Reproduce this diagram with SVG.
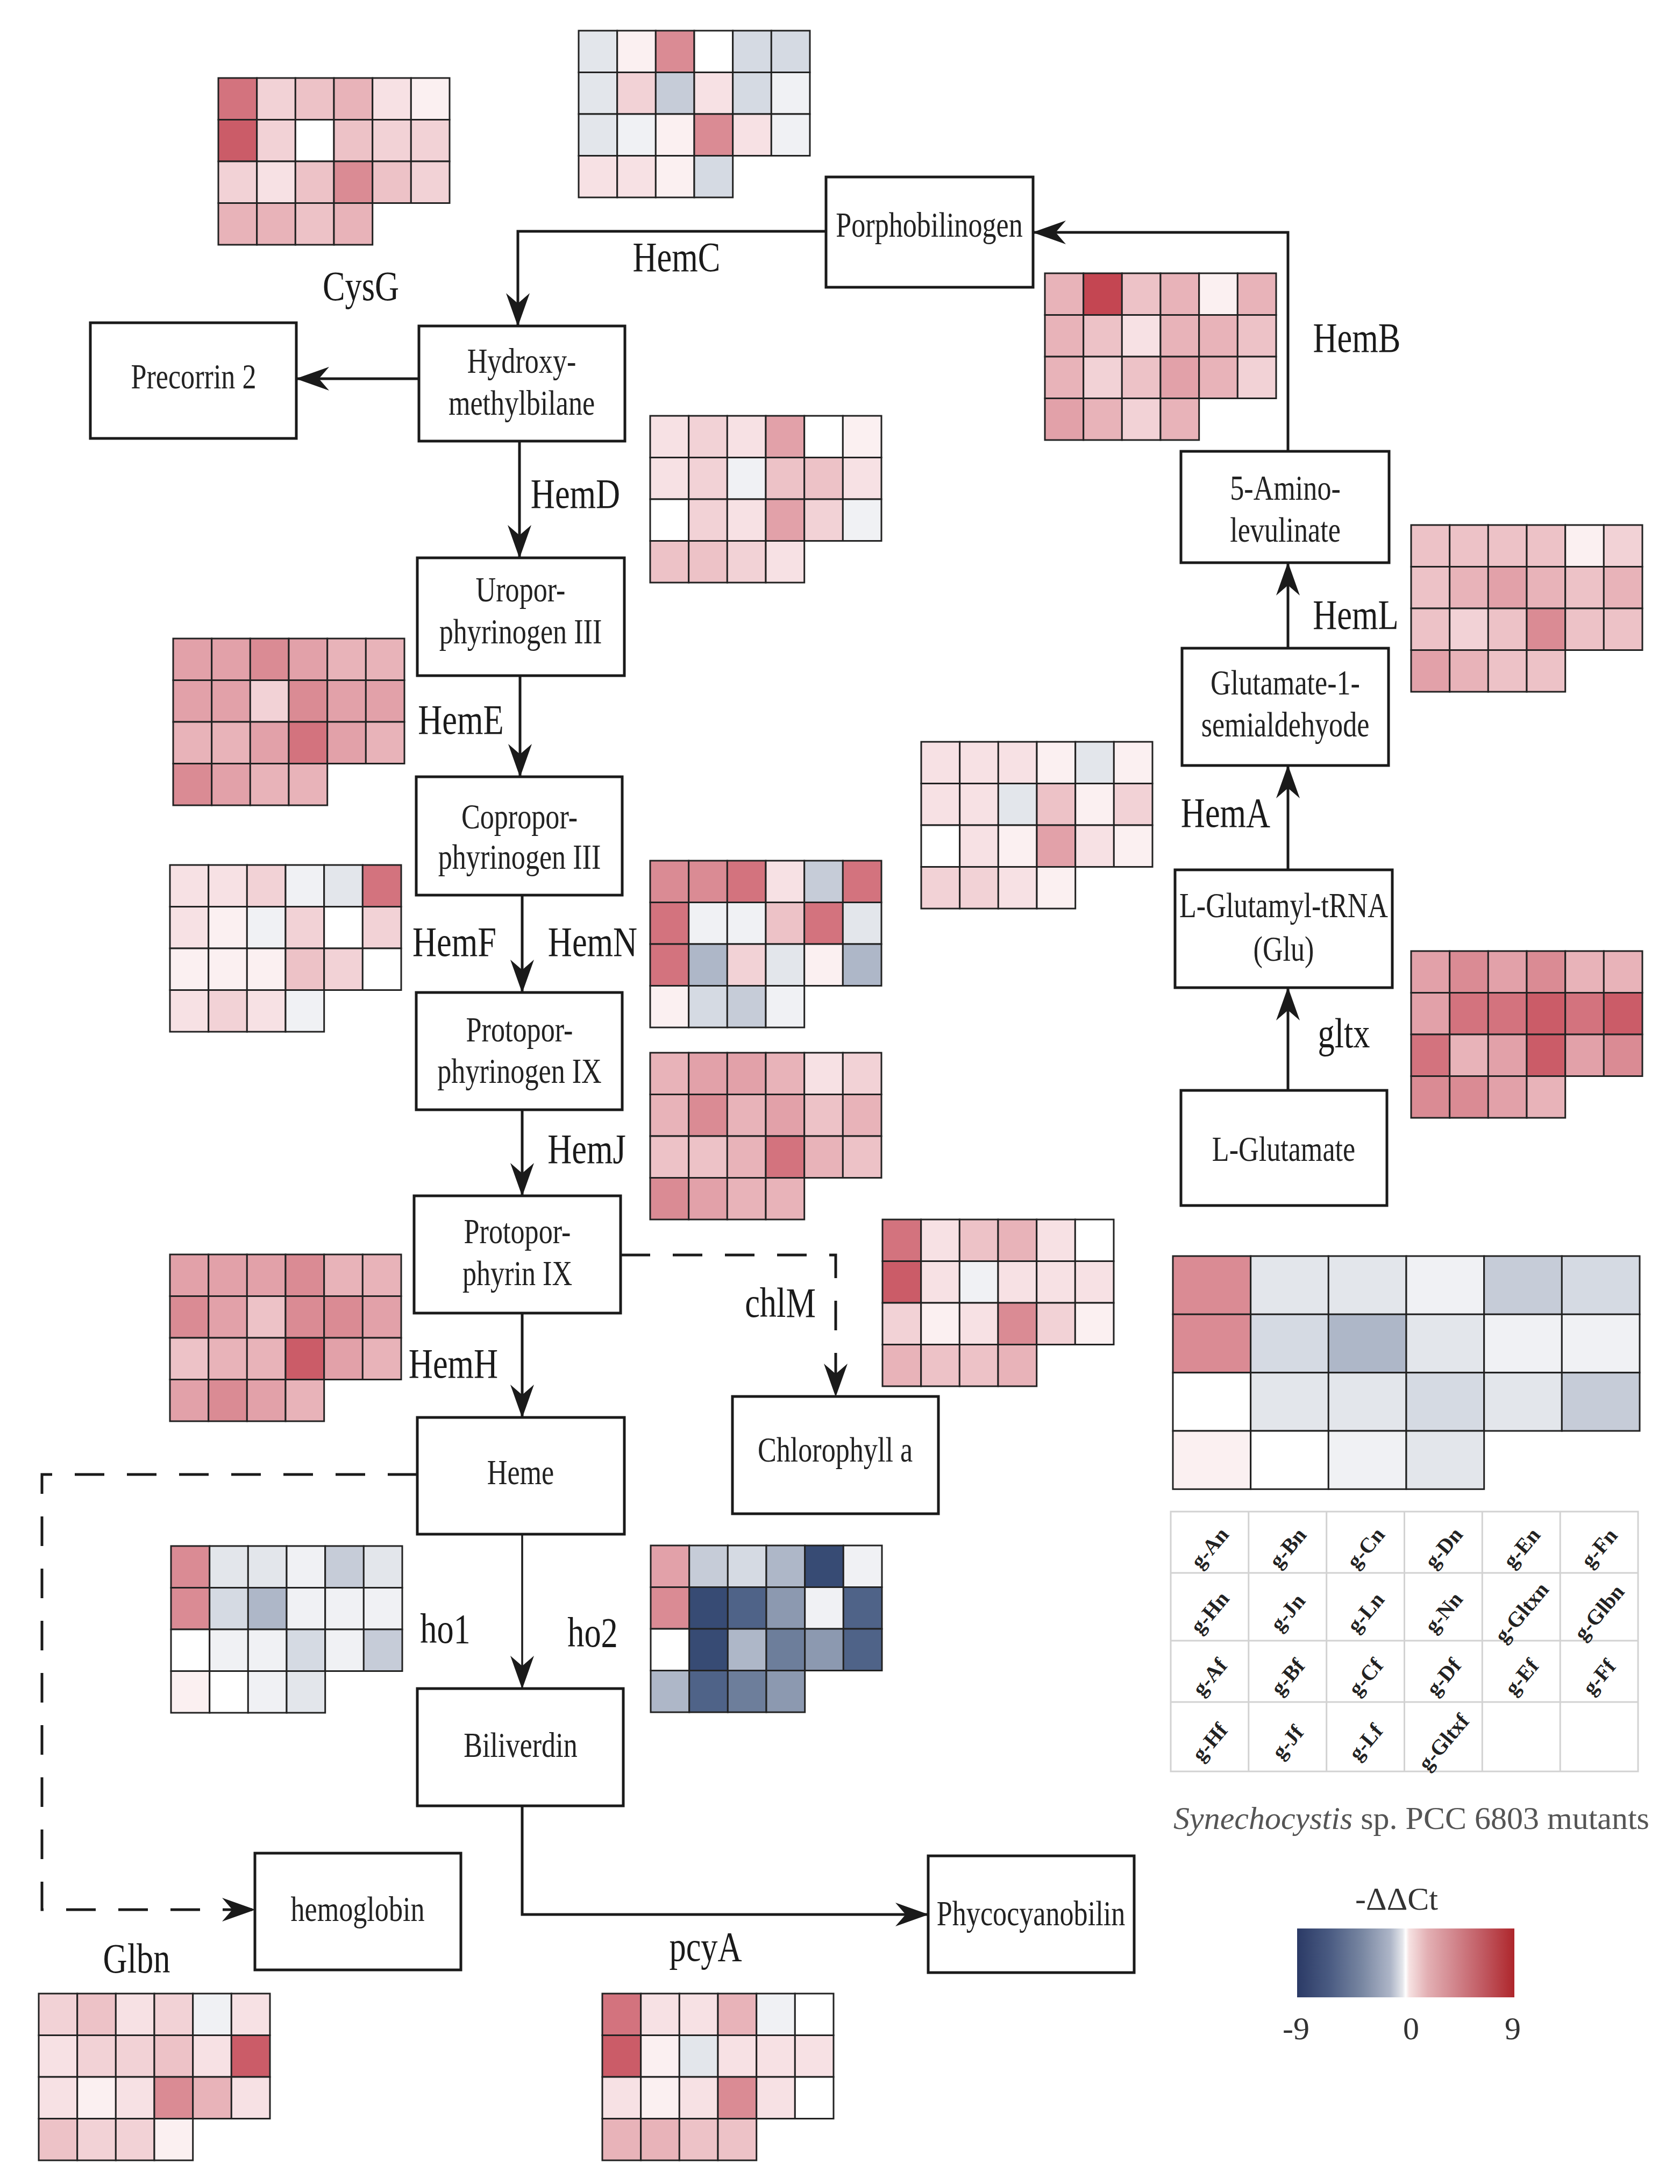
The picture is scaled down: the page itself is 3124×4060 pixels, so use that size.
<svg xmlns="http://www.w3.org/2000/svg" width="3124" height="4060" viewBox="0 0 3124 4060">
<defs>
<marker id="ah" markerUnits="userSpaceOnUse" markerWidth="64" markerHeight="48" refX="61" refY="24" orient="auto" viewBox="0 0 64 48"><path d="M0,2 L62,24 L0,46 L19,24 Z" fill="#1a1a1a"/></marker>
<linearGradient id="cbar" x1="0" y1="0" x2="1" y2="0">
<stop offset="0" stop-color="#2b3a66"/><stop offset="0.15" stop-color="#4a5b82"/><stop offset="0.3" stop-color="#7987a2"/><stop offset="0.43" stop-color="#aeb6c8"/><stop offset="0.485" stop-color="#e4e6eb"/><stop offset="0.5" stop-color="#ffffff"/><stop offset="0.515" stop-color="#f6e2e2"/><stop offset="0.6" stop-color="#e3b0b4"/><stop offset="0.72" stop-color="#d2878e"/><stop offset="0.86" stop-color="#c05860"/><stop offset="1" stop-color="#ae262b"/>
</linearGradient>
<style>
.node rect{fill:#fff;stroke:#1a1a1a;stroke-width:5}
.nt{font-family:"Liberation Serif","Times New Roman",serif;font-size:66px;fill:#222;text-anchor:middle}
.et{font-family:"Liberation Serif","Times New Roman",serif;font-size:78px;fill:#1a1a1a;text-anchor:middle}
.conn path{fill:none;stroke:#1a1a1a;stroke-width:5}
.conn .thin{stroke-width:3.5}
.conn .dash{stroke-dasharray:55 42;stroke-width:5}
.hm rect{stroke:#222;stroke-width:3}
.grid line,.grid rect{stroke:#d2d2d2;stroke-width:3;fill:none}
.gl{font-family:"Liberation Serif","Times New Roman",serif;font-size:40px;font-weight:bold;fill:#222;text-anchor:middle}
.cap{font-family:"Liberation Serif","Times New Roman",serif;font-size:60px;fill:#555}
.lt{font-family:"Liberation Serif","Times New Roman",serif;font-size:60px;fill:#333;text-anchor:middle}
.w{fill:#ffffff}.r1{fill:#fbf0f1}.r2{fill:#f7e1e4}.r3{fill:#f2d2d6}.r4{fill:#edc2c7}.r5{fill:#e8b3b9}.r6{fill:#e2a1a9}.r7{fill:#da8b94}.r8{fill:#d3737e}.r9{fill:#cb5c68}.r10{fill:#c44652}
.g1{fill:#f0f1f4}.g2{fill:#e3e6eb}.g3{fill:#d5dae3}.g4{fill:#c6ccd8}.g5{fill:#aeb7c8}.g6{fill:#8c99b0}.g7{fill:#6d7e9b}.g8{fill:#4f6388}.g9{fill:#374b74}
</style>
</defs>
<rect width="3124" height="4060" fill="#ffffff"/>

<g id="connectors" class="conn">
<path d="M1536,430 H963 V606" marker-end="url(#ah)"/>
<path d="M779,704 H551" marker-end="url(#ah)"/>
<path d="M966,820 V1037" marker-end="url(#ah)"/>
<path d="M967,1256 V1444" marker-end="url(#ah)"/>
<path d="M971,1664 V1845" marker-end="url(#ah)"/>
<path d="M971,2063 V2223" marker-end="url(#ah)"/>
<path d="M971,2441 V2635" marker-end="url(#ah)"/>
<path class="thin" d="M971,2852 V3139" marker-end="url(#ah)"/>
<path d="M971,3357 V3559 H1726" marker-end="url(#ah)"/>
<path class="dash" d="M776,2741 H78 V3550 H474" marker-end="url(#ah)"/>
<path class="dash" d="M1154,2333 H1554 V2596" marker-end="url(#ah)"/>
<path d="M2395,839 V432 H1921" marker-end="url(#ah)"/>
<path d="M2395,1205 V1046" marker-end="url(#ah)"/>
<path d="M2395,1617 V1423" marker-end="url(#ah)"/>
<path d="M2395,2027 V1836" marker-end="url(#ah)"/>
</g>

<g id="n-porphobilinogen" class="node"><rect x="1536" y="329" width="385" height="205"/><text class="nt" transform="translate(1728,440) scale(0.79,1)">Porphobilinogen</text></g>
<g id="n-hydroxymethylbilane" class="node"><rect x="779" y="606" width="383" height="214"/><text class="nt" transform="translate(970,0) scale(0.79,1)"><tspan x="0" y="693">Hydroxy-</tspan><tspan x="0" y="771">methylbilane</tspan></text></g>
<g id="n-precorrin2" class="node"><rect x="168" y="600" width="383" height="215"/><text class="nt" transform="translate(360,722) scale(0.79,1)">Precorrin 2</text></g>
<g id="n-uroporphyrinogen" class="node"><rect x="776" y="1037" width="385" height="219"/><text class="nt" transform="translate(968,0) scale(0.79,1)"><tspan x="0" y="1118">Uropor-</tspan><tspan x="0" y="1196">phyrinogen III</tspan></text></g>
<g id="n-coproporphyrinogen" class="node"><rect x="774" y="1444" width="383" height="220"/><text class="nt" transform="translate(966,0) scale(0.79,1)"><tspan x="0" y="1540">Copropor-</tspan><tspan x="0" y="1615">phyrinogen III</tspan></text></g>
<g id="n-protoporphyrinogen" class="node"><rect x="774" y="1845" width="383" height="218"/><text class="nt" transform="translate(966,0) scale(0.79,1)"><tspan x="0" y="1936">Protopor-</tspan><tspan x="0" y="2013">phyrinogen IX</tspan></text></g>
<g id="n-protoporphyrin" class="node"><rect x="770" y="2223" width="384" height="218"/><text class="nt" transform="translate(962,0) scale(0.79,1)"><tspan x="0" y="2311">Protopor-</tspan><tspan x="0" y="2389">phyrin IX</tspan></text></g>
<g id="n-heme" class="node"><rect x="776" y="2635" width="385" height="217"/><text class="nt" transform="translate(968,2759) scale(0.79,1)">Heme</text></g>
<g id="n-chlorophyll" class="node"><rect x="1362" y="2596" width="383" height="218"/><text class="nt" transform="translate(1553,2717) scale(0.79,1)">Chlorophyll a</text></g>
<g id="n-biliverdin" class="node"><rect x="776" y="3139" width="383" height="218"/><text class="nt" transform="translate(968,3266) scale(0.79,1)">Biliverdin</text></g>
<g id="n-hemoglobin" class="node"><rect x="474" y="3445" width="383" height="217"/><text class="nt" transform="translate(665,3571) scale(0.79,1)">hemoglobin</text></g>
<g id="n-phycocyanobilin" class="node"><rect x="1726" y="3450" width="383" height="217"/><text class="nt" transform="translate(1917,3579) scale(0.79,1)">Phycocyanobilin</text></g>
<g id="n-aminolevulinate" class="node"><rect x="2196" y="839" width="387" height="207"/><text class="nt" transform="translate(2390,0) scale(0.79,1)"><tspan x="0" y="929">5-Amino-</tspan><tspan x="0" y="1007">levulinate</tspan></text></g>
<g id="n-glutamate1" class="node"><rect x="2198" y="1205" width="384" height="218"/><text class="nt" transform="translate(2390,0) scale(0.79,1)"><tspan x="0" y="1291">Glutamate-1-</tspan><tspan x="0" y="1369">semialdehyode</tspan></text></g>
<g id="n-glutamyltrna" class="node"><rect x="2185" y="1617" width="404" height="219"/><text class="nt" transform="translate(2387,0) scale(0.79,1)"><tspan x="0" y="1705">L-Glutamyl-tRNA</tspan><tspan x="0" y="1786">(Glu)</tspan></text></g>
<g id="n-lglutamate" class="node"><rect x="2196" y="2027" width="383" height="214"/><text class="nt" transform="translate(2387,2158) scale(0.79,1)">L-Glutamate</text></g>

<g id="enzyme-labels">
<text class="et" transform="translate(1258,504) scale(0.8,1)">HemC</text>
<text class="et" transform="translate(671,558) scale(0.8,1)">CysG</text>
<text class="et" transform="translate(2523,654) scale(0.8,1)">HemB</text>
<text class="et" transform="translate(1070,944) scale(0.8,1)">HemD</text>
<text class="et" transform="translate(2521,1169) scale(0.8,1)">HemL</text>
<text class="et" transform="translate(857,1364) scale(0.8,1)">HemE</text>
<text class="et" transform="translate(2279,1537) scale(0.8,1)">HemA</text>
<text class="et" transform="translate(845,1777) scale(0.8,1)">HemF</text>
<text class="et" transform="translate(1102,1777) scale(0.8,1)">HemN</text>
<text class="et" transform="translate(2499,1947) scale(0.8,1)">gltx</text>
<text class="et" transform="translate(1091,2162) scale(0.8,1)">HemJ</text>
<text class="et" transform="translate(1451,2448) scale(0.8,1)">chlM</text>
<text class="et" transform="translate(843,2561) scale(0.8,1)">HemH</text>
<text class="et" transform="translate(828,3054) scale(0.8,1)">ho1</text>
<text class="et" transform="translate(1102,3061) scale(0.8,1)">ho2</text>
<text class="et" transform="translate(254,3667) scale(0.8,1)">Glbn</text>
<text class="et" transform="translate(1312,3645) scale(0.8,1)">pcyA</text>
</g>

<g id="hm-cysg" class="hm" transform="translate(406,145)">
<rect x="0" y="0" width="71.7" height="77.5" class="r8"/><rect x="71.7" y="0" width="71.7" height="77.5" class="r3"/><rect x="143.3" y="0" width="71.7" height="77.5" class="r4"/><rect x="215" y="0" width="71.7" height="77.5" class="r5"/><rect x="286.7" y="0" width="71.7" height="77.5" class="r2"/><rect x="358.3" y="0" width="71.7" height="77.5" class="r1"/>
<rect x="0" y="77.5" width="71.7" height="77.5" class="r9"/><rect x="71.7" y="77.5" width="71.7" height="77.5" class="r3"/><rect x="143.3" y="77.5" width="71.7" height="77.5" class="w"/><rect x="215" y="77.5" width="71.7" height="77.5" class="r4"/><rect x="286.7" y="77.5" width="71.7" height="77.5" class="r3"/><rect x="358.3" y="77.5" width="71.7" height="77.5" class="r3"/>
<rect x="0" y="155" width="71.7" height="77.5" class="r3"/><rect x="71.7" y="155" width="71.7" height="77.5" class="r2"/><rect x="143.3" y="155" width="71.7" height="77.5" class="r4"/><rect x="215" y="155" width="71.7" height="77.5" class="r7"/><rect x="286.7" y="155" width="71.7" height="77.5" class="r4"/><rect x="358.3" y="155" width="71.7" height="77.5" class="r3"/>
<rect x="0" y="232.5" width="71.7" height="77.5" class="r5"/><rect x="71.7" y="232.5" width="71.7" height="77.5" class="r5"/><rect x="143.3" y="232.5" width="71.7" height="77.5" class="r4"/><rect x="215" y="232.5" width="71.7" height="77.5" class="r5"/>
</g>

<g id="hm-hemc" class="hm" transform="translate(1076,57)">
<rect x="0" y="0" width="71.7" height="77.5" class="g2"/><rect x="71.7" y="0" width="71.7" height="77.5" class="r1"/><rect x="143.3" y="0" width="71.7" height="77.5" class="r7"/><rect x="215" y="0" width="71.7" height="77.5" class="w"/><rect x="286.7" y="0" width="71.7" height="77.5" class="g3"/><rect x="358.3" y="0" width="71.7" height="77.5" class="g3"/>
<rect x="0" y="77.5" width="71.7" height="77.5" class="g2"/><rect x="71.7" y="77.5" width="71.7" height="77.5" class="r3"/><rect x="143.3" y="77.5" width="71.7" height="77.5" class="g4"/><rect x="215" y="77.5" width="71.7" height="77.5" class="r2"/><rect x="286.7" y="77.5" width="71.7" height="77.5" class="g3"/><rect x="358.3" y="77.5" width="71.7" height="77.5" class="g1"/>
<rect x="0" y="155" width="71.7" height="77.5" class="g2"/><rect x="71.7" y="155" width="71.7" height="77.5" class="g1"/><rect x="143.3" y="155" width="71.7" height="77.5" class="r1"/><rect x="215" y="155" width="71.7" height="77.5" class="r7"/><rect x="286.7" y="155" width="71.7" height="77.5" class="r2"/><rect x="358.3" y="155" width="71.7" height="77.5" class="g1"/>
<rect x="0" y="232.5" width="71.7" height="77.5" class="r2"/><rect x="71.7" y="232.5" width="71.7" height="77.5" class="r2"/><rect x="143.3" y="232.5" width="71.7" height="77.5" class="r1"/><rect x="215" y="232.5" width="71.7" height="77.5" class="g3"/>
</g>

<g id="hm-hemb" class="hm" transform="translate(1943,508)">
<rect x="0" y="0" width="71.7" height="77.5" class="r5"/><rect x="71.7" y="0" width="71.7" height="77.5" class="r10"/><rect x="143.3" y="0" width="71.7" height="77.5" class="r4"/><rect x="215" y="0" width="71.7" height="77.5" class="r5"/><rect x="286.7" y="0" width="71.7" height="77.5" class="r1"/><rect x="358.3" y="0" width="71.7" height="77.5" class="r5"/>
<rect x="0" y="77.5" width="71.7" height="77.5" class="r5"/><rect x="71.7" y="77.5" width="71.7" height="77.5" class="r4"/><rect x="143.3" y="77.5" width="71.7" height="77.5" class="r2"/><rect x="215" y="77.5" width="71.7" height="77.5" class="r5"/><rect x="286.7" y="77.5" width="71.7" height="77.5" class="r5"/><rect x="358.3" y="77.5" width="71.7" height="77.5" class="r4"/>
<rect x="0" y="155" width="71.7" height="77.5" class="r5"/><rect x="71.7" y="155" width="71.7" height="77.5" class="r3"/><rect x="143.3" y="155" width="71.7" height="77.5" class="r4"/><rect x="215" y="155" width="71.7" height="77.5" class="r6"/><rect x="286.7" y="155" width="71.7" height="77.5" class="r5"/><rect x="358.3" y="155" width="71.7" height="77.5" class="r3"/>
<rect x="0" y="232.5" width="71.7" height="77.5" class="r6"/><rect x="71.7" y="232.5" width="71.7" height="77.5" class="r5"/><rect x="143.3" y="232.5" width="71.7" height="77.5" class="r3"/><rect x="215" y="232.5" width="71.7" height="77.5" class="r5"/>
</g>

<g id="hm-hemd" class="hm" transform="translate(1209,773)">
<rect x="0" y="0" width="71.7" height="77.5" class="r2"/><rect x="71.7" y="0" width="71.7" height="77.5" class="r3"/><rect x="143.3" y="0" width="71.7" height="77.5" class="r2"/><rect x="215" y="0" width="71.7" height="77.5" class="r6"/><rect x="286.7" y="0" width="71.7" height="77.5" class="w"/><rect x="358.3" y="0" width="71.7" height="77.5" class="r1"/>
<rect x="0" y="77.5" width="71.7" height="77.5" class="r2"/><rect x="71.7" y="77.5" width="71.7" height="77.5" class="r3"/><rect x="143.3" y="77.5" width="71.7" height="77.5" class="g1"/><rect x="215" y="77.5" width="71.7" height="77.5" class="r4"/><rect x="286.7" y="77.5" width="71.7" height="77.5" class="r4"/><rect x="358.3" y="77.5" width="71.7" height="77.5" class="r2"/>
<rect x="0" y="155" width="71.7" height="77.5" class="w"/><rect x="71.7" y="155" width="71.7" height="77.5" class="r3"/><rect x="143.3" y="155" width="71.7" height="77.5" class="r2"/><rect x="215" y="155" width="71.7" height="77.5" class="r6"/><rect x="286.7" y="155" width="71.7" height="77.5" class="r3"/><rect x="358.3" y="155" width="71.7" height="77.5" class="g1"/>
<rect x="0" y="232.5" width="71.7" height="77.5" class="r4"/><rect x="71.7" y="232.5" width="71.7" height="77.5" class="r4"/><rect x="143.3" y="232.5" width="71.7" height="77.5" class="r3"/><rect x="215" y="232.5" width="71.7" height="77.5" class="r2"/>
</g>

<g id="hm-heml" class="hm" transform="translate(2624,976)">
<rect x="0" y="0" width="71.7" height="77.5" class="r4"/><rect x="71.7" y="0" width="71.7" height="77.5" class="r4"/><rect x="143.3" y="0" width="71.7" height="77.5" class="r4"/><rect x="215" y="0" width="71.7" height="77.5" class="r4"/><rect x="286.7" y="0" width="71.7" height="77.5" class="r1"/><rect x="358.3" y="0" width="71.7" height="77.5" class="r3"/>
<rect x="0" y="77.5" width="71.7" height="77.5" class="r4"/><rect x="71.7" y="77.5" width="71.7" height="77.5" class="r5"/><rect x="143.3" y="77.5" width="71.7" height="77.5" class="r6"/><rect x="215" y="77.5" width="71.7" height="77.5" class="r5"/><rect x="286.7" y="77.5" width="71.7" height="77.5" class="r4"/><rect x="358.3" y="77.5" width="71.7" height="77.5" class="r5"/>
<rect x="0" y="155" width="71.7" height="77.5" class="r4"/><rect x="71.7" y="155" width="71.7" height="77.5" class="r3"/><rect x="143.3" y="155" width="71.7" height="77.5" class="r4"/><rect x="215" y="155" width="71.7" height="77.5" class="r7"/><rect x="286.7" y="155" width="71.7" height="77.5" class="r4"/><rect x="358.3" y="155" width="71.7" height="77.5" class="r4"/>
<rect x="0" y="232.5" width="71.7" height="77.5" class="r6"/><rect x="71.7" y="232.5" width="71.7" height="77.5" class="r5"/><rect x="143.3" y="232.5" width="71.7" height="77.5" class="r4"/><rect x="215" y="232.5" width="71.7" height="77.5" class="r4"/>
</g>

<g id="hm-heme" class="hm" transform="translate(322,1187)">
<rect x="0" y="0" width="71.7" height="77.5" class="r6"/><rect x="71.7" y="0" width="71.7" height="77.5" class="r6"/><rect x="143.3" y="0" width="71.7" height="77.5" class="r7"/><rect x="215" y="0" width="71.7" height="77.5" class="r6"/><rect x="286.7" y="0" width="71.7" height="77.5" class="r5"/><rect x="358.3" y="0" width="71.7" height="77.5" class="r5"/>
<rect x="0" y="77.5" width="71.7" height="77.5" class="r6"/><rect x="71.7" y="77.5" width="71.7" height="77.5" class="r6"/><rect x="143.3" y="77.5" width="71.7" height="77.5" class="r3"/><rect x="215" y="77.5" width="71.7" height="77.5" class="r7"/><rect x="286.7" y="77.5" width="71.7" height="77.5" class="r6"/><rect x="358.3" y="77.5" width="71.7" height="77.5" class="r6"/>
<rect x="0" y="155" width="71.7" height="77.5" class="r5"/><rect x="71.7" y="155" width="71.7" height="77.5" class="r5"/><rect x="143.3" y="155" width="71.7" height="77.5" class="r6"/><rect x="215" y="155" width="71.7" height="77.5" class="r8"/><rect x="286.7" y="155" width="71.7" height="77.5" class="r6"/><rect x="358.3" y="155" width="71.7" height="77.5" class="r5"/>
<rect x="0" y="232.5" width="71.7" height="77.5" class="r7"/><rect x="71.7" y="232.5" width="71.7" height="77.5" class="r6"/><rect x="143.3" y="232.5" width="71.7" height="77.5" class="r5"/><rect x="215" y="232.5" width="71.7" height="77.5" class="r5"/>
</g>

<g id="hm-hema" class="hm" transform="translate(1713,1379)">
<rect x="0" y="0" width="71.7" height="77.5" class="r2"/><rect x="71.7" y="0" width="71.7" height="77.5" class="r2"/><rect x="143.3" y="0" width="71.7" height="77.5" class="r2"/><rect x="215" y="0" width="71.7" height="77.5" class="r1"/><rect x="286.7" y="0" width="71.7" height="77.5" class="g2"/><rect x="358.3" y="0" width="71.7" height="77.5" class="r1"/>
<rect x="0" y="77.5" width="71.7" height="77.5" class="r2"/><rect x="71.7" y="77.5" width="71.7" height="77.5" class="r2"/><rect x="143.3" y="77.5" width="71.7" height="77.5" class="g2"/><rect x="215" y="77.5" width="71.7" height="77.5" class="r4"/><rect x="286.7" y="77.5" width="71.7" height="77.5" class="r1"/><rect x="358.3" y="77.5" width="71.7" height="77.5" class="r3"/>
<rect x="0" y="155" width="71.7" height="77.5" class="w"/><rect x="71.7" y="155" width="71.7" height="77.5" class="r2"/><rect x="143.3" y="155" width="71.7" height="77.5" class="r1"/><rect x="215" y="155" width="71.7" height="77.5" class="r6"/><rect x="286.7" y="155" width="71.7" height="77.5" class="r2"/><rect x="358.3" y="155" width="71.7" height="77.5" class="r1"/>
<rect x="0" y="232.5" width="71.7" height="77.5" class="r3"/><rect x="71.7" y="232.5" width="71.7" height="77.5" class="r3"/><rect x="143.3" y="232.5" width="71.7" height="77.5" class="r2"/><rect x="215" y="232.5" width="71.7" height="77.5" class="r1"/>
</g>

<g id="hm-hemf" class="hm" transform="translate(316,1608)">
<rect x="0" y="0" width="71.7" height="77.5" class="r2"/><rect x="71.7" y="0" width="71.7" height="77.5" class="r2"/><rect x="143.3" y="0" width="71.7" height="77.5" class="r3"/><rect x="215" y="0" width="71.7" height="77.5" class="g1"/><rect x="286.7" y="0" width="71.7" height="77.5" class="g2"/><rect x="358.3" y="0" width="71.7" height="77.5" class="r8"/>
<rect x="0" y="77.5" width="71.7" height="77.5" class="r2"/><rect x="71.7" y="77.5" width="71.7" height="77.5" class="r1"/><rect x="143.3" y="77.5" width="71.7" height="77.5" class="g1"/><rect x="215" y="77.5" width="71.7" height="77.5" class="r3"/><rect x="286.7" y="77.5" width="71.7" height="77.5" class="w"/><rect x="358.3" y="77.5" width="71.7" height="77.5" class="r3"/>
<rect x="0" y="155" width="71.7" height="77.5" class="r1"/><rect x="71.7" y="155" width="71.7" height="77.5" class="r1"/><rect x="143.3" y="155" width="71.7" height="77.5" class="r1"/><rect x="215" y="155" width="71.7" height="77.5" class="r4"/><rect x="286.7" y="155" width="71.7" height="77.5" class="r3"/><rect x="358.3" y="155" width="71.7" height="77.5" class="w"/>
<rect x="0" y="232.5" width="71.7" height="77.5" class="r2"/><rect x="71.7" y="232.5" width="71.7" height="77.5" class="r3"/><rect x="143.3" y="232.5" width="71.7" height="77.5" class="r2"/><rect x="215" y="232.5" width="71.7" height="77.5" class="g1"/>
</g>

<g id="hm-hemn" class="hm" transform="translate(1209,1600)">
<rect x="0" y="0" width="71.7" height="77.5" class="r7"/><rect x="71.7" y="0" width="71.7" height="77.5" class="r7"/><rect x="143.3" y="0" width="71.7" height="77.5" class="r8"/><rect x="215" y="0" width="71.7" height="77.5" class="r2"/><rect x="286.7" y="0" width="71.7" height="77.5" class="g4"/><rect x="358.3" y="0" width="71.7" height="77.5" class="r8"/>
<rect x="0" y="77.5" width="71.7" height="77.5" class="r8"/><rect x="71.7" y="77.5" width="71.7" height="77.5" class="g1"/><rect x="143.3" y="77.5" width="71.7" height="77.5" class="g1"/><rect x="215" y="77.5" width="71.7" height="77.5" class="r4"/><rect x="286.7" y="77.5" width="71.7" height="77.5" class="r8"/><rect x="358.3" y="77.5" width="71.7" height="77.5" class="g2"/>
<rect x="0" y="155" width="71.7" height="77.5" class="r8"/><rect x="71.7" y="155" width="71.7" height="77.5" class="g5"/><rect x="143.3" y="155" width="71.7" height="77.5" class="r3"/><rect x="215" y="155" width="71.7" height="77.5" class="g2"/><rect x="286.7" y="155" width="71.7" height="77.5" class="r1"/><rect x="358.3" y="155" width="71.7" height="77.5" class="g5"/>
<rect x="0" y="232.5" width="71.7" height="77.5" class="r1"/><rect x="71.7" y="232.5" width="71.7" height="77.5" class="g3"/><rect x="143.3" y="232.5" width="71.7" height="77.5" class="g4"/><rect x="215" y="232.5" width="71.7" height="77.5" class="g1"/>
</g>

<g id="hm-gltx" class="hm" transform="translate(2624,1768)">
<rect x="0" y="0" width="71.7" height="77.5" class="r6"/><rect x="71.7" y="0" width="71.7" height="77.5" class="r7"/><rect x="143.3" y="0" width="71.7" height="77.5" class="r6"/><rect x="215" y="0" width="71.7" height="77.5" class="r7"/><rect x="286.7" y="0" width="71.7" height="77.5" class="r5"/><rect x="358.3" y="0" width="71.7" height="77.5" class="r5"/>
<rect x="0" y="77.5" width="71.7" height="77.5" class="r6"/><rect x="71.7" y="77.5" width="71.7" height="77.5" class="r8"/><rect x="143.3" y="77.5" width="71.7" height="77.5" class="r8"/><rect x="215" y="77.5" width="71.7" height="77.5" class="r9"/><rect x="286.7" y="77.5" width="71.7" height="77.5" class="r8"/><rect x="358.3" y="77.5" width="71.7" height="77.5" class="r9"/>
<rect x="0" y="155" width="71.7" height="77.5" class="r8"/><rect x="71.7" y="155" width="71.7" height="77.5" class="r5"/><rect x="143.3" y="155" width="71.7" height="77.5" class="r6"/><rect x="215" y="155" width="71.7" height="77.5" class="r9"/><rect x="286.7" y="155" width="71.7" height="77.5" class="r6"/><rect x="358.3" y="155" width="71.7" height="77.5" class="r7"/>
<rect x="0" y="232.5" width="71.7" height="77.5" class="r7"/><rect x="71.7" y="232.5" width="71.7" height="77.5" class="r7"/><rect x="143.3" y="232.5" width="71.7" height="77.5" class="r6"/><rect x="215" y="232.5" width="71.7" height="77.5" class="r5"/>
</g>

<g id="hm-hemj" class="hm" transform="translate(1209,1957)">
<rect x="0" y="0" width="71.7" height="77.5" class="r5"/><rect x="71.7" y="0" width="71.7" height="77.5" class="r6"/><rect x="143.3" y="0" width="71.7" height="77.5" class="r6"/><rect x="215" y="0" width="71.7" height="77.5" class="r5"/><rect x="286.7" y="0" width="71.7" height="77.5" class="r2"/><rect x="358.3" y="0" width="71.7" height="77.5" class="r3"/>
<rect x="0" y="77.5" width="71.7" height="77.5" class="r5"/><rect x="71.7" y="77.5" width="71.7" height="77.5" class="r7"/><rect x="143.3" y="77.5" width="71.7" height="77.5" class="r5"/><rect x="215" y="77.5" width="71.7" height="77.5" class="r6"/><rect x="286.7" y="77.5" width="71.7" height="77.5" class="r4"/><rect x="358.3" y="77.5" width="71.7" height="77.5" class="r5"/>
<rect x="0" y="155" width="71.7" height="77.5" class="r4"/><rect x="71.7" y="155" width="71.7" height="77.5" class="r4"/><rect x="143.3" y="155" width="71.7" height="77.5" class="r5"/><rect x="215" y="155" width="71.7" height="77.5" class="r8"/><rect x="286.7" y="155" width="71.7" height="77.5" class="r5"/><rect x="358.3" y="155" width="71.7" height="77.5" class="r4"/>
<rect x="0" y="232.5" width="71.7" height="77.5" class="r7"/><rect x="71.7" y="232.5" width="71.7" height="77.5" class="r6"/><rect x="143.3" y="232.5" width="71.7" height="77.5" class="r5"/><rect x="215" y="232.5" width="71.7" height="77.5" class="r5"/>
</g>

<g id="hm-chlm" class="hm" transform="translate(1641,2267)">
<rect x="0" y="0" width="71.7" height="77.5" class="r8"/><rect x="71.7" y="0" width="71.7" height="77.5" class="r2"/><rect x="143.3" y="0" width="71.7" height="77.5" class="r4"/><rect x="215" y="0" width="71.7" height="77.5" class="r5"/><rect x="286.7" y="0" width="71.7" height="77.5" class="r2"/><rect x="358.3" y="0" width="71.7" height="77.5" class="w"/>
<rect x="0" y="77.5" width="71.7" height="77.5" class="r9"/><rect x="71.7" y="77.5" width="71.7" height="77.5" class="r2"/><rect x="143.3" y="77.5" width="71.7" height="77.5" class="g1"/><rect x="215" y="77.5" width="71.7" height="77.5" class="r2"/><rect x="286.7" y="77.5" width="71.7" height="77.5" class="r2"/><rect x="358.3" y="77.5" width="71.7" height="77.5" class="r2"/>
<rect x="0" y="155" width="71.7" height="77.5" class="r3"/><rect x="71.7" y="155" width="71.7" height="77.5" class="r1"/><rect x="143.3" y="155" width="71.7" height="77.5" class="r2"/><rect x="215" y="155" width="71.7" height="77.5" class="r7"/><rect x="286.7" y="155" width="71.7" height="77.5" class="r3"/><rect x="358.3" y="155" width="71.7" height="77.5" class="r1"/>
<rect x="0" y="232.5" width="71.7" height="77.5" class="r5"/><rect x="71.7" y="232.5" width="71.7" height="77.5" class="r4"/><rect x="143.3" y="232.5" width="71.7" height="77.5" class="r4"/><rect x="215" y="232.5" width="71.7" height="77.5" class="r5"/>
</g>

<g id="hm-hemh" class="hm" transform="translate(316,2332)">
<rect x="0" y="0" width="71.7" height="77.5" class="r6"/><rect x="71.7" y="0" width="71.7" height="77.5" class="r6"/><rect x="143.3" y="0" width="71.7" height="77.5" class="r6"/><rect x="215" y="0" width="71.7" height="77.5" class="r7"/><rect x="286.7" y="0" width="71.7" height="77.5" class="r5"/><rect x="358.3" y="0" width="71.7" height="77.5" class="r5"/>
<rect x="0" y="77.5" width="71.7" height="77.5" class="r7"/><rect x="71.7" y="77.5" width="71.7" height="77.5" class="r6"/><rect x="143.3" y="77.5" width="71.7" height="77.5" class="r4"/><rect x="215" y="77.5" width="71.7" height="77.5" class="r7"/><rect x="286.7" y="77.5" width="71.7" height="77.5" class="r7"/><rect x="358.3" y="77.5" width="71.7" height="77.5" class="r6"/>
<rect x="0" y="155" width="71.7" height="77.5" class="r4"/><rect x="71.7" y="155" width="71.7" height="77.5" class="r5"/><rect x="143.3" y="155" width="71.7" height="77.5" class="r5"/><rect x="215" y="155" width="71.7" height="77.5" class="r9"/><rect x="286.7" y="155" width="71.7" height="77.5" class="r6"/><rect x="358.3" y="155" width="71.7" height="77.5" class="r5"/>
<rect x="0" y="232.5" width="71.7" height="77.5" class="r6"/><rect x="71.7" y="232.5" width="71.7" height="77.5" class="r7"/><rect x="143.3" y="232.5" width="71.7" height="77.5" class="r6"/><rect x="215" y="232.5" width="71.7" height="77.5" class="r5"/>
</g>

<g id="hm-ho1" class="hm" transform="translate(318,2874)">
<rect x="0" y="0" width="71.7" height="77.5" class="r7"/><rect x="71.7" y="0" width="71.7" height="77.5" class="g2"/><rect x="143.3" y="0" width="71.7" height="77.5" class="g2"/><rect x="215" y="0" width="71.7" height="77.5" class="g1"/><rect x="286.7" y="0" width="71.7" height="77.5" class="g4"/><rect x="358.3" y="0" width="71.7" height="77.5" class="g2"/>
<rect x="0" y="77.5" width="71.7" height="77.5" class="r7"/><rect x="71.7" y="77.5" width="71.7" height="77.5" class="g3"/><rect x="143.3" y="77.5" width="71.7" height="77.5" class="g5"/><rect x="215" y="77.5" width="71.7" height="77.5" class="g1"/><rect x="286.7" y="77.5" width="71.7" height="77.5" class="g1"/><rect x="358.3" y="77.5" width="71.7" height="77.5" class="g1"/>
<rect x="0" y="155" width="71.7" height="77.5" class="w"/><rect x="71.7" y="155" width="71.7" height="77.5" class="g1"/><rect x="143.3" y="155" width="71.7" height="77.5" class="g1"/><rect x="215" y="155" width="71.7" height="77.5" class="g3"/><rect x="286.7" y="155" width="71.7" height="77.5" class="g1"/><rect x="358.3" y="155" width="71.7" height="77.5" class="g4"/>
<rect x="0" y="232.5" width="71.7" height="77.5" class="r1"/><rect x="71.7" y="232.5" width="71.7" height="77.5" class="w"/><rect x="143.3" y="232.5" width="71.7" height="77.5" class="g1"/><rect x="215" y="232.5" width="71.7" height="77.5" class="g2"/>
</g>

<g id="hm-ho2" class="hm" transform="translate(1210,2873)">
<rect x="0" y="0" width="71.7" height="77.5" class="r6"/><rect x="71.7" y="0" width="71.7" height="77.5" class="g4"/><rect x="143.3" y="0" width="71.7" height="77.5" class="g3"/><rect x="215" y="0" width="71.7" height="77.5" class="g5"/><rect x="286.7" y="0" width="71.7" height="77.5" class="g9"/><rect x="358.3" y="0" width="71.7" height="77.5" class="g1"/>
<rect x="0" y="77.5" width="71.7" height="77.5" class="r7"/><rect x="71.7" y="77.5" width="71.7" height="77.5" class="g9"/><rect x="143.3" y="77.5" width="71.7" height="77.5" class="g8"/><rect x="215" y="77.5" width="71.7" height="77.5" class="g6"/><rect x="286.7" y="77.5" width="71.7" height="77.5" class="g1"/><rect x="358.3" y="77.5" width="71.7" height="77.5" class="g8"/>
<rect x="0" y="155" width="71.7" height="77.5" class="w"/><rect x="71.7" y="155" width="71.7" height="77.5" class="g9"/><rect x="143.3" y="155" width="71.7" height="77.5" class="g5"/><rect x="215" y="155" width="71.7" height="77.5" class="g7"/><rect x="286.7" y="155" width="71.7" height="77.5" class="g6"/><rect x="358.3" y="155" width="71.7" height="77.5" class="g8"/>
<rect x="0" y="232.5" width="71.7" height="77.5" class="g5"/><rect x="71.7" y="232.5" width="71.7" height="77.5" class="g8"/><rect x="143.3" y="232.5" width="71.7" height="77.5" class="g7"/><rect x="215" y="232.5" width="71.7" height="77.5" class="g6"/>
</g>

<g id="hm-glbn" class="hm" transform="translate(72,3706)">
<rect x="0" y="0" width="71.7" height="77.5" class="r3"/><rect x="71.7" y="0" width="71.7" height="77.5" class="r4"/><rect x="143.3" y="0" width="71.7" height="77.5" class="r2"/><rect x="215" y="0" width="71.7" height="77.5" class="r3"/><rect x="286.7" y="0" width="71.7" height="77.5" class="g1"/><rect x="358.3" y="0" width="71.7" height="77.5" class="r2"/>
<rect x="0" y="77.5" width="71.7" height="77.5" class="r2"/><rect x="71.7" y="77.5" width="71.7" height="77.5" class="r3"/><rect x="143.3" y="77.5" width="71.7" height="77.5" class="r3"/><rect x="215" y="77.5" width="71.7" height="77.5" class="r4"/><rect x="286.7" y="77.5" width="71.7" height="77.5" class="r2"/><rect x="358.3" y="77.5" width="71.7" height="77.5" class="r9"/>
<rect x="0" y="155" width="71.7" height="77.5" class="r2"/><rect x="71.7" y="155" width="71.7" height="77.5" class="r1"/><rect x="143.3" y="155" width="71.7" height="77.5" class="r2"/><rect x="215" y="155" width="71.7" height="77.5" class="r7"/><rect x="286.7" y="155" width="71.7" height="77.5" class="r5"/><rect x="358.3" y="155" width="71.7" height="77.5" class="r2"/>
<rect x="0" y="232.5" width="71.7" height="77.5" class="r4"/><rect x="71.7" y="232.5" width="71.7" height="77.5" class="r3"/><rect x="143.3" y="232.5" width="71.7" height="77.5" class="r3"/><rect x="215" y="232.5" width="71.7" height="77.5" class="r1"/>
</g>

<g id="hm-pcya" class="hm" transform="translate(1120,3706)">
<rect x="0" y="0" width="71.7" height="77.5" class="r8"/><rect x="71.7" y="0" width="71.7" height="77.5" class="r2"/><rect x="143.3" y="0" width="71.7" height="77.5" class="r2"/><rect x="215" y="0" width="71.7" height="77.5" class="r5"/><rect x="286.7" y="0" width="71.7" height="77.5" class="g1"/><rect x="358.3" y="0" width="71.7" height="77.5" class="w"/>
<rect x="0" y="77.5" width="71.7" height="77.5" class="r9"/><rect x="71.7" y="77.5" width="71.7" height="77.5" class="r1"/><rect x="143.3" y="77.5" width="71.7" height="77.5" class="g2"/><rect x="215" y="77.5" width="71.7" height="77.5" class="r2"/><rect x="286.7" y="77.5" width="71.7" height="77.5" class="r2"/><rect x="358.3" y="77.5" width="71.7" height="77.5" class="r2"/>
<rect x="0" y="155" width="71.7" height="77.5" class="r2"/><rect x="71.7" y="155" width="71.7" height="77.5" class="r1"/><rect x="143.3" y="155" width="71.7" height="77.5" class="r2"/><rect x="215" y="155" width="71.7" height="77.5" class="r7"/><rect x="286.7" y="155" width="71.7" height="77.5" class="r2"/><rect x="358.3" y="155" width="71.7" height="77.5" class="w"/>
<rect x="0" y="232.5" width="71.7" height="77.5" class="r5"/><rect x="71.7" y="232.5" width="71.7" height="77.5" class="r5"/><rect x="143.3" y="232.5" width="71.7" height="77.5" class="r4"/><rect x="215" y="232.5" width="71.7" height="77.5" class="r4"/>
</g>

<g id="hm-legend" class="hm" transform="translate(2181,2335)">
<rect x="0" y="0" width="144.7" height="108.3" class="r7"/><rect x="144.7" y="0" width="144.7" height="108.3" class="g2"/><rect x="289.3" y="0" width="144.7" height="108.3" class="g2"/><rect x="434" y="0" width="144.7" height="108.3" class="g1"/><rect x="578.7" y="0" width="144.7" height="108.3" class="g4"/><rect x="723.3" y="0" width="144.7" height="108.3" class="g3"/>
<rect x="0" y="108.3" width="144.7" height="108.3" class="r7"/><rect x="144.7" y="108.3" width="144.7" height="108.3" class="g3"/><rect x="289.3" y="108.3" width="144.7" height="108.3" class="g5"/><rect x="434" y="108.3" width="144.7" height="108.3" class="g2"/><rect x="578.7" y="108.3" width="144.7" height="108.3" class="g1"/><rect x="723.3" y="108.3" width="144.7" height="108.3" class="g1"/>
<rect x="0" y="216.7" width="144.7" height="108.3" class="w"/><rect x="144.7" y="216.7" width="144.7" height="108.3" class="g2"/><rect x="289.3" y="216.7" width="144.7" height="108.3" class="g2"/><rect x="434" y="216.7" width="144.7" height="108.3" class="g3"/><rect x="578.7" y="216.7" width="144.7" height="108.3" class="g2"/><rect x="723.3" y="216.7" width="144.7" height="108.3" class="g4"/>
<rect x="0" y="325" width="144.7" height="108.3" class="r1"/><rect x="144.7" y="325" width="144.7" height="108.3" class="w"/><rect x="289.3" y="325" width="144.7" height="108.3" class="g1"/><rect x="434" y="325" width="144.7" height="108.3" class="g2"/>
</g>

<g id="legend-grid">
<g class="grid">
<rect x="2177" y="2810" width="869" height="483"/>
<line x1="2177" y1="2924" x2="3046" y2="2924"/><line x1="2177" y1="3050" x2="3046" y2="3050"/><line x1="2177" y1="3164" x2="3046" y2="3164"/>
<line x1="2321.8" y1="2810" x2="2321.8" y2="3293"/><line x1="2466.7" y1="2810" x2="2466.7" y2="3293"/><line x1="2611.5" y1="2810" x2="2611.5" y2="3293"/><line x1="2756.3" y1="2810" x2="2756.3" y2="3293"/><line x1="2901.2" y1="2810" x2="2901.2" y2="3293"/>
</g>
<text class="gl" transform="translate(2249,2877) rotate(-50)" dy="0.35em">g-An</text>
<text class="gl" transform="translate(2394,2877) rotate(-50)" dy="0.35em">g-Bn</text>
<text class="gl" transform="translate(2539,2877) rotate(-50)" dy="0.35em">g-Cn</text>
<text class="gl" transform="translate(2684,2877) rotate(-50)" dy="0.35em">g-Dn</text>
<text class="gl" transform="translate(2829,2877) rotate(-50)" dy="0.35em">g-En</text>
<text class="gl" transform="translate(2973,2877) rotate(-50)" dy="0.35em">g-Fn</text>
<text class="gl" transform="translate(2249,2997) rotate(-50)" dy="0.35em">g-Hn</text>
<text class="gl" transform="translate(2394,2997) rotate(-50)" dy="0.35em">g-Jn</text>
<text class="gl" transform="translate(2539,2997) rotate(-50)" dy="0.35em">g-Ln</text>
<text class="gl" transform="translate(2684,2997) rotate(-50)" dy="0.35em">g-Nn</text>
<text class="gl" transform="translate(2829,2997) rotate(-50)" dy="0.35em">g-Gltxn</text>
<text class="gl" transform="translate(2973,2997) rotate(-50)" dy="0.35em">g-Glbn</text>
<text class="gl" transform="translate(2249,3117) rotate(-50)" dy="0.35em">g-Af</text>
<text class="gl" transform="translate(2394,3117) rotate(-50)" dy="0.35em">g-Bf</text>
<text class="gl" transform="translate(2539,3117) rotate(-50)" dy="0.35em">g-Cf</text>
<text class="gl" transform="translate(2684,3117) rotate(-50)" dy="0.35em">g-Df</text>
<text class="gl" transform="translate(2829,3117) rotate(-50)" dy="0.35em">g-Ef</text>
<text class="gl" transform="translate(2973,3117) rotate(-50)" dy="0.35em">g-Ff</text>
<text class="gl" transform="translate(2249,3238) rotate(-50)" dy="0.35em">g-Hf</text>
<text class="gl" transform="translate(2394,3238) rotate(-50)" dy="0.35em">g-Jf</text>
<text class="gl" transform="translate(2539,3238) rotate(-50)" dy="0.35em">g-Lf</text>
<text class="gl" transform="translate(2684,3238) rotate(-50)" dy="0.35em">g-Gltxf</text>
</g>

<g id="caption"><text class="cap" x="2182" y="3400"><tspan font-style="italic">Synechocystis</tspan> sp. PCC 6803 mutants</text></g>

<g id="colorbar">
<text class="lt" x="2597" y="3550">-ΔΔCt</text>
<rect x="2412" y="3585" width="404" height="128" fill="url(#cbar)"/>
<text class="lt" x="2410" y="3791">-9</text>
<text class="lt" x="2624" y="3791">0</text>
<text class="lt" x="2813" y="3791">9</text>
</g>
</svg>
